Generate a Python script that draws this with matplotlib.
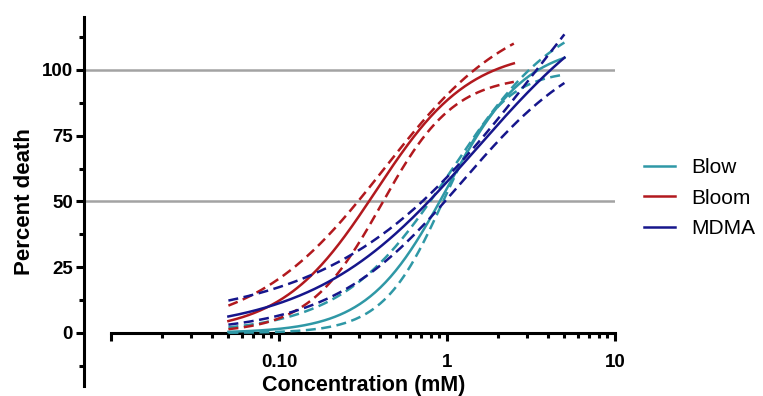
import numpy as np
import matplotlib
matplotlib.use("Agg")
import matplotlib.pyplot as plt
from matplotlib.ticker import FixedLocator, NullFormatter

# Four-parameter logistic fits: bottom, top, logEC50 (log10 mM), Hill slope
# for the best fit and the lower / upper confidence bands of each compound.
compounds = ["Blow", "Bloom", "MDMA"]
colors = ["#2f98a6", "#b2191e", "#16168c"]
conc_range = [(0.05, 5.0), (0.05, 2.5), (0.05, 5.0)]

fit_bottom = [0.0, 0.0, 0.0]
fit_top = [110.0, 108.0, 140.0]
fit_logec50 = [0.0, -0.423, 0.175]
fit_hill = [1.84, 1.547, 0.9]

lower_bottom = [0.0, 0.0, 0.0]
lower_top = [100.0, 98.0, 115.0]
lower_logec50 = [-0.024, -0.389, 0.090]
lower_hill = [2.41, 2.0, 1.113]

upper_bottom = [0.0, 0.0, 4.0]
upper_top = [125.0, 125.0, 200.0]
upper_logec50 = [0.033, -0.373, 0.558]
upper_hill = [1.32, 1.123, 0.728]

y_ticks = [0, 25, 50, 75, 100]
x_tick_labels = ["0.10", "1", "10"]


def logistic(x, bottom, top, logec50, hill):
    return bottom + (top - bottom) / (1.0 + 10 ** ((logec50 - np.log10(x)) * hill))


plt.rcParams["font.family"] = ["Liberation Sans", "DejaVu Sans"]

fig = plt.figure(figsize=(7.63, 3.96), dpi=100)
ax = fig.add_axes([0.110, 0.0263, 0.696, 0.930])
ax.set_xscale("log")
ax.set_xlim(10 ** -2.161, 10)
ax.set_ylim(-20, 120)

for y in (50, 100):
    ax.axhline(y, color="#a3a3a3", lw=1.8, zorder=1)

lw = 1.8
dash = (0, (4.0, 2.2))
for i, name in enumerate(compounds):
    x = np.logspace(np.log10(conc_range[i][0]), np.log10(conc_range[i][1]), 200)
    ax.plot(x, logistic(x, fit_bottom[i], fit_top[i], fit_logec50[i], fit_hill[i]),
            color=colors[i], lw=lw, label=name, zorder=3)
    ax.plot(x, logistic(x, lower_bottom[i], lower_top[i], lower_logec50[i], lower_hill[i]),
            color=colors[i], lw=lw, ls=dash, zorder=3)
    ax.plot(x, logistic(x, upper_bottom[i], upper_top[i], upper_logec50[i], upper_hill[i]),
            color=colors[i], lw=lw, ls=dash, zorder=3)

# Spines: left axis spans the full range, bottom axis sits at zero
for s in ("top", "right"):
    ax.spines[s].set_visible(False)
ax.spines["left"].set_linewidth(2.2)
ax.spines["bottom"].set_linewidth(2.2)
ax.spines["bottom"].set_position(("data", 0))
ax.spines["bottom"].set_bounds(0.01, 10)

ax.set_yticks(y_ticks)
ax.set_yticklabels([str(v) for v in y_ticks], fontsize=13.5, fontweight="bold")
ax.yaxis.set_minor_locator(FixedLocator([-12.5, 12.5, 37.5, 62.5, 87.5, 112.5]))
ax.tick_params(axis="y", which="major", length=6, width=2.2, pad=2)
ax.tick_params(axis="y", which="minor", length=3.5, width=2.2)

ax.set_xticks([0.01, 0.1, 1, 10])
ax.set_xticklabels([""] + x_tick_labels, fontsize=13.5, fontweight="bold")
minor = [m * 10.0 ** e for e in (-2, -1, 0) for m in range(2, 10)]
ax.xaxis.set_minor_locator(FixedLocator(minor))
ax.xaxis.set_minor_formatter(NullFormatter())
ax.tick_params(axis="x", which="major", length=6, width=2.2, pad=9)
ax.tick_params(axis="x", which="minor", length=3.5, width=2.2)

ax.set_ylabel("Percent death", fontsize=16, fontweight="bold")
ax.yaxis.set_label_coords(0.046, 0.49, transform=fig.transFigure)
ax.set_xlabel("Concentration (mM)", fontsize=15.5, fontweight="bold", va="bottom")
ax.xaxis.set_label_coords(0.477, 0.001, transform=fig.transFigure)

leg = fig.legend(loc="center left", bbox_to_anchor=(0.819, 0.50), frameon=False,
                 fontsize=15, handlelength=1.5, handletextpad=0.8, labelspacing=0.55)
for line in leg.get_lines():
    line.set_linewidth(lw)

fig.savefig("out.png", dpi=100)
